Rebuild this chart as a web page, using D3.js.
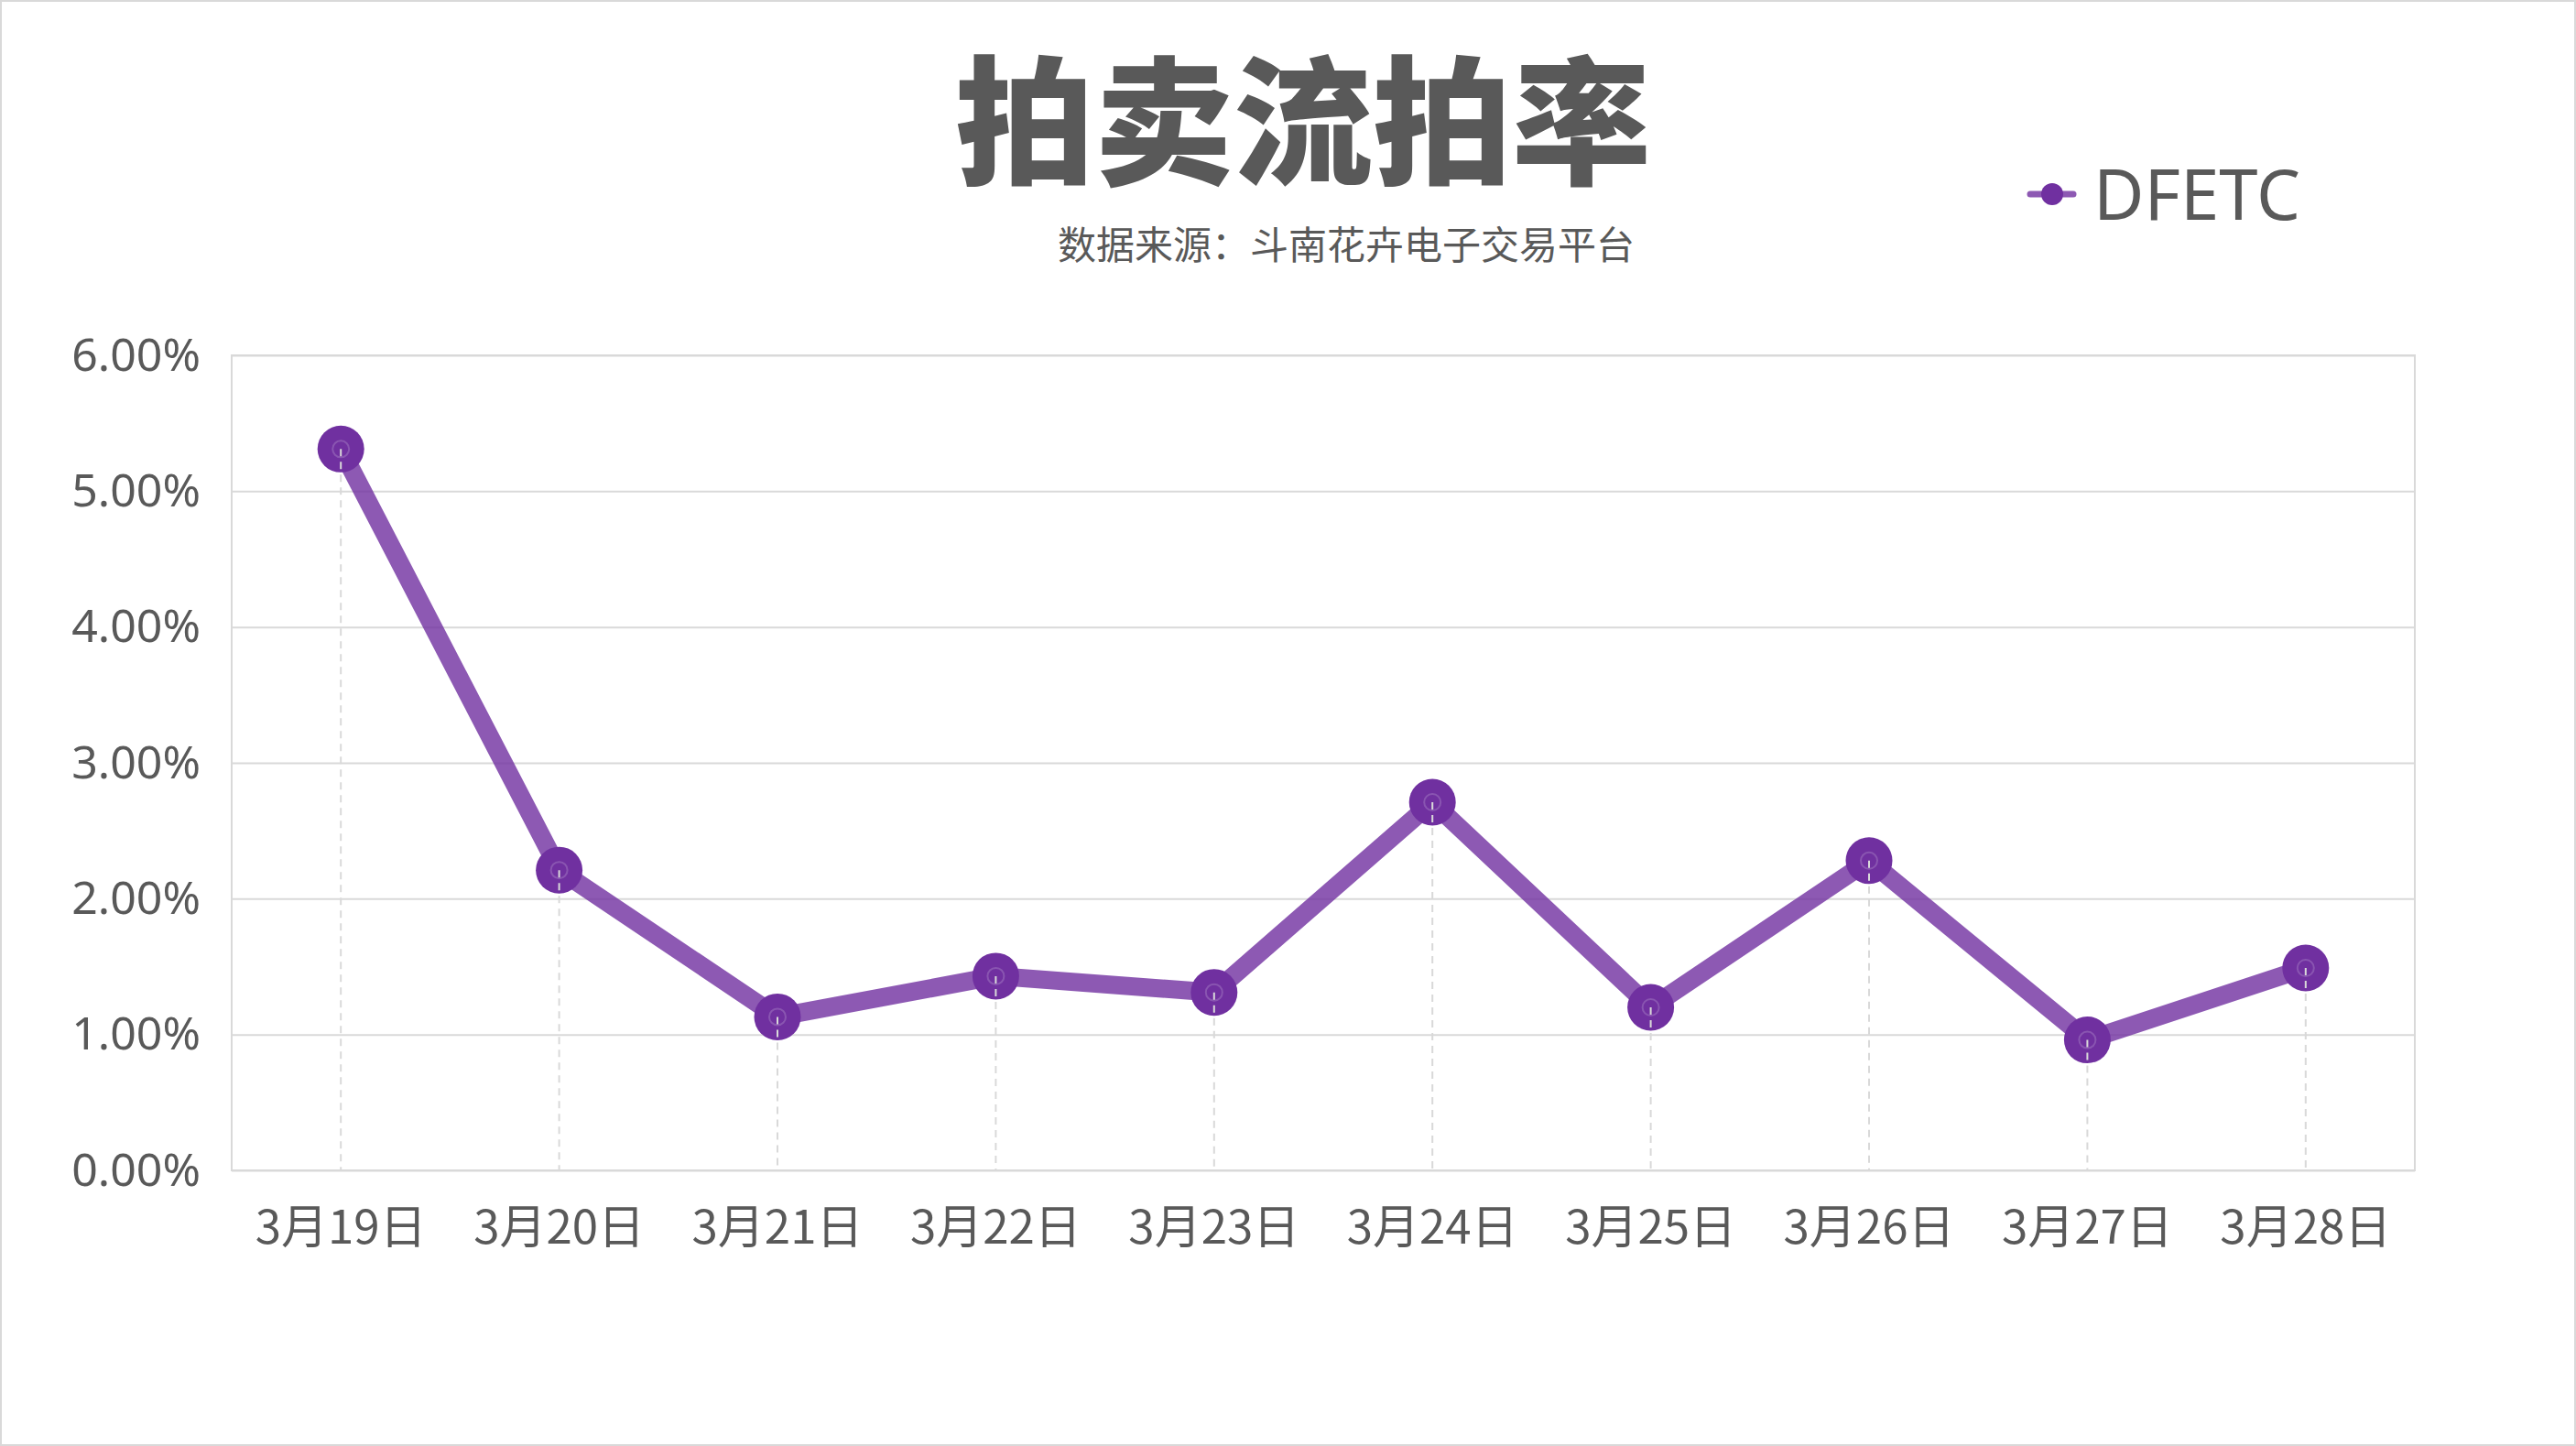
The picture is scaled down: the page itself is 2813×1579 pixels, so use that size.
<!DOCTYPE html>
<html>
<head>
<meta charset="utf-8">
<script src="https://cdn.jsdelivr.net/npm/d3@7/dist/d3.min.js"></script>
<style>
  html, body { margin: 0; padding: 0; background: #fff; }
  svg { display: block; }
</style>
</head>
<body>
<svg id="chart"></svg>
<script>
// chart data
const dates = ["3月19日", "3月20日", "3月21日", "3月22日", "3月23日", "3月24日", "3月25日", "3月26日", "3月27日", "3月28日"];
const rates = [0.0531, 0.0221, 0.0113, 0.0143, 0.0131, 0.0271, 0.0120, 0.0228, 0.0096, 0.0149];
const yTicks = [0, 0.01, 0.02, 0.03, 0.04, 0.05, 0.06];
const seriesName = "DFETC";
const title = "拍卖流拍率";
const subtitle = "数据来源：斗南花卉电子交易平台";

const W = 2813, H = 1579;
const margin = { top: 388, right: 176, bottom: 301, left: 253 };
const textColor = "#595959";
const gridColor = "#d9d9d9";
const markerColor = "#7030a0";
const cjk = "'Noto Sans CJK SC', 'Noto Sans', sans-serif";
const latin = "'Noto Sans', 'Open Sans', sans-serif";

const svg = d3.select("#chart").attr("width", W).attr("height", H);

// page border
svg.append("rect")
  .attr("x", 1).attr("y", 1)
  .attr("width", W - 2).attr("height", H - 2)
  .attr("fill", "#fff")
  .attr("stroke", gridColor)
  .attr("stroke-width", 2);

const x = d3.scaleBand().domain(dates).range([margin.left, W - margin.right]).padding(0);
const y = d3.scaleLinear().domain([0, 0.06]).range([H - margin.bottom, margin.top]);
const cx = d => x(d) + x.bandwidth() / 2;

// gridlines
const grid = svg.append("g")
  .attr("transform", `translate(${margin.left},0)`)
  .call(d3.axisLeft(y).tickValues(yTicks).tickSize(-(W - margin.left - margin.right)).tickFormat(""));
grid.select(".domain").remove();
grid.selectAll("line").attr("stroke", gridColor).attr("stroke-width", 2);

// plot frame
svg.append("rect")
  .attr("x", margin.left).attr("y", margin.top)
  .attr("width", W - margin.left - margin.right)
  .attr("height", H - margin.top - margin.bottom)
  .attr("fill", "none")
  .attr("stroke", gridColor)
  .attr("stroke-width", 2);

// y axis labels
const yAxis = svg.append("g")
  .attr("transform", `translate(${margin.left},0)`)
  .call(d3.axisLeft(y).tickValues(yTicks).tickSize(0).tickPadding(34).tickFormat(d3.format(".2%")));
yAxis.select(".domain").remove();
yAxis.selectAll("text")
  .attr("font-family", latin)
  .attr("font-size", 50)
  .attr("fill", textColor);

// x axis labels
const xAxis = svg.append("g")
  .attr("transform", `translate(0,${H - margin.bottom})`)
  .call(d3.axisBottom(x).tickSize(0).tickPadding(0));
xAxis.select(".domain").remove();
xAxis.selectAll("text")
  .attr("font-family", cjk)
  .attr("font-size", 51)
  .attr("fill", textColor)
  .attr("dy", null)
  .attr("y", 80);

const points = dates.map((d, i) => ({ date: d, value: rates[i] }));

// the line
const line = d3.line().x(d => cx(d.date)).y(d => y(d.value));
svg.append("path")
  .datum(points)
  .attr("fill", "none")
  .attr("stroke", markerColor)
  .attr("stroke-opacity", 0.8)
  .attr("stroke-width", 20)
  .attr("stroke-linejoin", "round")
  .attr("d", line);

// markers
svg.append("g").selectAll("circle")
  .data(points)
  .join("circle")
  .attr("cx", d => cx(d.date))
  .attr("cy", d => y(d.value))
  .attr("r", 25.5)
  .attr("fill", markerColor);

svg.append("g").selectAll("circle")
  .data(points)
  .join("circle")
  .attr("cx", d => cx(d.date))
  .attr("cy", d => y(d.value))
  .attr("r", 9)
  .attr("fill", "none")
  .attr("stroke", "rgba(255,255,255,0.18)")
  .attr("stroke-width", 2);

// drop lines
svg.append("g").selectAll("line")
  .data(points)
  .join("line")
  .attr("x1", d => cx(d.date)).attr("x2", d => cx(d.date))
  .attr("y1", d => y(d.value)).attr("y2", y(0))
  .attr("stroke", gridColor)
  .attr("stroke-width", 2)
  .attr("stroke-dasharray", "8,6");

// title
svg.append("text")
  .attr("x", 1423).attr("y", 190)
  .attr("text-anchor", "middle")
  .attr("font-family", cjk)
  .attr("font-weight", 900)
  .attr("font-size", 152)
  .attr("fill", textColor)
  .text(title);

svg.append("text")
  .attr("x", 1470).attr("y", 283)
  .attr("text-anchor", "middle")
  .attr("font-family", cjk)
  .attr("font-size", 42)
  .attr("fill", textColor)
  .text(subtitle);

// legend
const legend = svg.append("g").attr("transform", "translate(2241,212)");
legend.append("line")
  .attr("x1", -24).attr("x2", 23)
  .attr("stroke", markerColor)
  .attr("stroke-opacity", 0.8)
  .attr("stroke-width", 7)
  .attr("stroke-linecap", "round");
legend.append("circle").attr("r", 12).attr("fill", markerColor);
legend.append("text")
  .attr("x", 45).attr("y", 28)
  .attr("font-family", latin)
  .attr("font-size", 76)
  .attr("fill", textColor)
  .text(seriesName);
</script>
</body>
</html>
